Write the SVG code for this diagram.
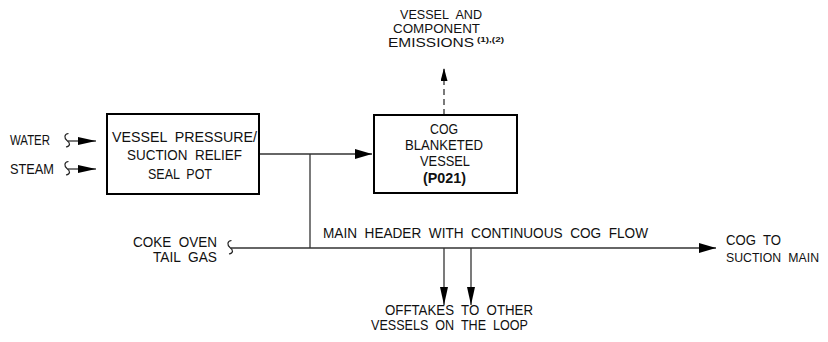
<svg xmlns="http://www.w3.org/2000/svg" width="828" height="342" viewBox="0 0 828 342">
<style>
text{font-family:"Liberation Sans",Arial,sans-serif;font-size:14.5px;fill:#111;word-spacing:4px}
.b{font-weight:bold}
.em{font-size:12.5px}
.box{fill:#fff;stroke:#000;stroke-width:2}
.ln{fill:none;stroke:#333;stroke-width:1.3}
.sq{fill:none;stroke:#222;stroke-width:1.2}
.dash{stroke-dasharray:6 4}
</style>
<defs>
<marker id="ah" viewBox="0 0 17 10" refX="17" refY="5" markerWidth="17" markerHeight="10" markerUnits="userSpaceOnUse" orient="auto"><path d="M0,0 L17,5 L0,10 Z" fill="#000"/></marker>
<marker id="ahn" viewBox="0 0 18 8" refX="18" refY="4" markerWidth="18" markerHeight="8" markerUnits="userSpaceOnUse" orient="auto"><path d="M0,0 L18,4 L0,8 Z" fill="#000"/></marker>
<marker id="ahs" viewBox="0 0 13 7" refX="13" refY="3.5" markerWidth="13" markerHeight="7" markerUnits="userSpaceOnUse" orient="auto"><path d="M0,0 L13,3.5 L0,7 Z" fill="#000"/></marker>
</defs>
<g id="connectors">
<path class="sq" d="M68.5,133.5 C64,134 64,138 67,140.5 C70.5,143 70.5,146 66,147"/>
<path class="ln" d="M67.5,141 L96,141" marker-end="url(#ahn)"/>
<path class="sq" d="M68.5,161.5 C64,162 64,166 67,168.5 C70.5,171 70.5,174 66,175"/>
<path class="ln" d="M67.5,169 L96,169" marker-end="url(#ahn)"/>
<path class="ln" d="M259,154 L372,154" marker-end="url(#ah)"/>
<path class="ln" d="M310,154 L310,248"/>
<path class="ln dash" d="M444,115 L444,68" marker-end="url(#ahs)"/>
<path class="sq" d="M231.5,240.5 C227,241 227,245 230,247.5 C233.5,250 233.5,253 229,254"/>
<path class="ln" d="M230.5,248 L716,248" marker-end="url(#ah)"/>
<path class="ln" d="M444,248 L444,305" marker-end="url(#ahn)"/>
<path class="ln" d="M471,248 L471,305" marker-end="url(#ahn)"/>
</g>
<g id="seal-pot">
<rect class="box" x="107" y="114" width="152" height="80"/>
<text x="112" y="142" textLength="145" lengthAdjust="spacingAndGlyphs">VESSEL PRESSURE/</text>
<text x="127" y="160" textLength="115" lengthAdjust="spacingAndGlyphs">SUCTION RELIEF</text>
<text x="148" y="179" textLength="64" lengthAdjust="spacingAndGlyphs">SEAL POT</text>
</g>
<g id="vessel">
<rect class="box" x="374" y="115" width="143" height="78"/>
<text x="430" y="134" textLength="28" lengthAdjust="spacingAndGlyphs">COG</text>
<text x="405" y="150" textLength="78" lengthAdjust="spacingAndGlyphs">BLANKETED</text>
<text x="420" y="166" textLength="50" lengthAdjust="spacingAndGlyphs">VESSEL</text>
<text class="b" x="423" y="183" textLength="43" lengthAdjust="spacingAndGlyphs">(P021)</text>
</g>
<g id="emissions">
<text class="em" x="400" y="19" textLength="82" lengthAdjust="spacingAndGlyphs">VESSEL AND</text>
<text class="em" x="393" y="33" textLength="87" lengthAdjust="spacingAndGlyphs">COMPONENT</text>
<text class="em" x="388" y="47" textLength="86" lengthAdjust="spacingAndGlyphs">EMISSIONS</text>
<text class="b" x="477" y="42" style="font-size:7.5px;word-spacing:0" textLength="27" lengthAdjust="spacingAndGlyphs">(1),(2)</text>
</g>
<g id="water"><text x="10" y="145" textLength="40" lengthAdjust="spacingAndGlyphs">WATER</text></g>
<g id="steam"><text x="10" y="174" textLength="44" lengthAdjust="spacingAndGlyphs">STEAM</text></g>
<g id="coke-oven">
<text x="133" y="247" textLength="84" lengthAdjust="spacingAndGlyphs">COKE OVEN</text>
<text x="153" y="262" textLength="64" lengthAdjust="spacingAndGlyphs">TAIL GAS</text>
</g>
<g id="main-header"><text x="323" y="238" textLength="325" lengthAdjust="spacingAndGlyphs">MAIN HEADER WITH CONTINUOUS COG FLOW</text></g>
<g id="suction-main">
<text x="726" y="245" textLength="55" lengthAdjust="spacingAndGlyphs">COG TO</text>
<text x="726" y="262" style="font-size:13px" textLength="93" lengthAdjust="spacingAndGlyphs">SUCTION MAIN</text>
</g>
<g id="offtakes">
<text x="385" y="315" textLength="148" lengthAdjust="spacingAndGlyphs">OFFTAKES TO OTHER</text>
<text x="371" y="330" textLength="157" lengthAdjust="spacingAndGlyphs">VESSELS ON THE LOOP</text>
</g>
</svg>
